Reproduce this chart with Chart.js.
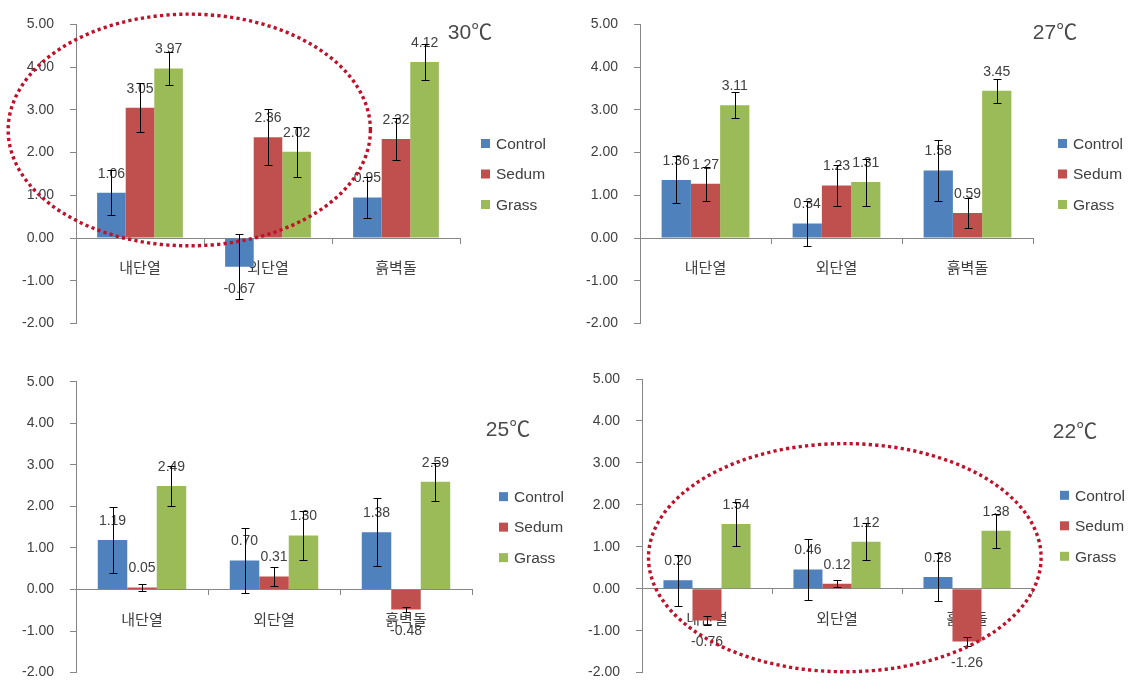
<!DOCTYPE html>
<html>
<head>
<meta charset="utf-8">
<script src="https://cdn.jsdelivr.net/npm/chart.js@4.4.0/dist/chart.umd.min.js"></script>
<style>
html, body { margin: 0; padding: 0; background: #fff; }
#wrap { position: relative; width: 1132px; height: 697px; overflow: hidden; }
#wrap canvas { position: absolute; }
</style>
</head>
<body>
<div id="wrap">
  <canvas id="c0" width="566" height="348" style="left:0;top:0"></canvas>
  <canvas id="c1" width="566" height="348" style="left:566px;top:0"></canvas>
  <canvas id="c2" width="566" height="349" style="left:0;top:348px"></canvas>
  <canvas id="c3" width="566" height="349" style="left:566px;top:348px"></canvas>
</div>
<script>
// categories and series
const categories = ['내단열', '외단열', '흙벽돌'];
const seriesNames = ['Control', 'Sedum', 'Grass'];
const temps = ['30℃', '27℃', '25℃', '22℃'];

// mean values, one row per temperature (30, 27, 25, 22)
const controlMeans = [[1.06, -0.67, 0.95], [1.36, 0.34, 1.58], [1.19, 0.70, 1.38], [0.20, 0.46, 0.28]];
const sedumMeans   = [[3.05, 2.36, 2.32], [1.27, 1.23, 0.59], [0.05, 0.31, -0.48], [-0.76, 0.12, -1.26]];
const grassMeans   = [[3.97, 2.02, 4.12], [3.11, 1.31, 3.45], [2.49, 1.30, 2.59], [1.54, 1.12, 1.38]];

// error bar half-lengths
const controlErr = [[0.53, 0.76, 0.49], [0.55, 0.52, 0.72], [0.79, 0.79, 0.81], [0.61, 0.73, 0.58]];
const sedumErr   = [[0.57, 0.65, 0.50], [0.39, 0.47, 0.35], [0.08, 0.23, 0.06], [0.10, 0.08, 0.11]];
const grassErr   = [[0.38, 0.58, 0.43], [0.31, 0.55, 0.28], [0.49, 0.60, 0.46], [0.53, 0.44, 0.40]];

// y axis range
const yMin = -2;
const yMax = 5;
const yStep = 1;

const means = [controlMeans, sedumMeans, grassMeans];
const errs = [controlErr, sedumErr, grassErr];
const colors = ['#4F81BD', '#C0504D', '#9BBB59'];

const FONT = "'Liberation Sans', 'Noto Sans CJK KR', sans-serif";
const TEXT = '#404040';
const AXIS = '#868686';

// per-panel layout; ring = dotted highlight ellipse in scale units
const panels = [
  { padTop: 22.7, padBottom: 20, padRight: 106, axisLeft: 76, title: [470, 33], legendX: 481,
    ring: { x0: -1.03, x1: 1.80, y0: -0.18, y1: 5.24 } },
  { padTop: 22.7, padBottom: 20, padRight: 99, axisLeft: 74, title: [489, 33], legendX: 492 },
  { padTop: 33.7, padBottom: 13, padRight: 94, axisLeft: 76, title: [508, 82], legendX: 499 },
  { padTop: 31, padBottom: 14, padRight: 100, axisLeft: 76, title: [509, 84], legendX: 494,
    ring: { x0: -0.45, x1: 2.57, y0: -1.98, y1: 3.46 } }
];

const decor = {
  id: 'decor',
  afterDatasetsDraw(chart, args, opts) {
    const ctx = chart.ctx;
    const p = opts.panel;
    const y = chart.scales.y;
    const x = chart.scales.x;
    const area = chart.chartArea;
    ctx.save();

    // value labels
    ctx.font = '14px ' + FONT;
    ctx.fillStyle = TEXT;
    ctx.textAlign = 'center';
    ctx.textBaseline = 'middle';
    chart.data.datasets.forEach((ds, i) => {
      chart.getDatasetMeta(i).data.forEach((bar, j) => {
        const v = ds.data[j];
        const ty = v >= 0 ? bar.y - 19 : bar.y + 22;
        ctx.fillText(v.toFixed(2), bar.x, ty);
      });
    });

    // error bars
    ctx.strokeStyle = '#000';
    ctx.lineWidth = 1;
    chart.data.datasets.forEach((ds, i) => {
      chart.getDatasetMeta(i).data.forEach((bar, j) => {
        const v = ds.data[j], e = ds.errors[j];
        const top = Math.round(y.getPixelForValue(v + e)) + 0.5;
        const bot = Math.round(y.getPixelForValue(v - e)) + 0.5;
        const cx = Math.round(bar.x) + 0.5;
        ctx.beginPath();
        ctx.moveTo(cx, top); ctx.lineTo(cx, bot);
        ctx.moveTo(cx - 4, top); ctx.lineTo(cx + 4, top);
        ctx.moveTo(cx - 4, bot); ctx.lineTo(cx + 4, bot);
        ctx.stroke();
      });
    });

    // legend
    const midY = (area.top + area.bottom) / 2;
    ctx.font = '15.5px ' + FONT;
    ctx.textAlign = 'left';
    chart.data.datasets.forEach((ds, i) => {
      const ly = midY + (i - 1) * 30.5;
      ctx.fillStyle = ds.backgroundColor;
      ctx.fillRect(p.legendX, ly - 4.5, 9, 9);
      ctx.fillStyle = TEXT;
      ctx.fillText(ds.label, p.legendX + 15, ly + 1);
    });

    // temperature title
    ctx.font = '21px ' + FONT;
    ctx.textAlign = 'center';
    ctx.fillStyle = '#4a4a4a';
    ctx.fillText(opts.title, p.title[0], p.title[1]);

    // dotted ellipse
    if (p.ring) {
      const l = x.getPixelForValue(p.ring.x0), r = x.getPixelForValue(p.ring.x1);
      const t = y.getPixelForValue(p.ring.y1), b = y.getPixelForValue(p.ring.y0);
      ctx.beginPath();
      ctx.ellipse((l + r) / 2, (t + b) / 2, (r - l) / 2, (b - t) / 2, 0, 0, Math.PI * 2);
      ctx.setLineDash([3.2, 3.2]);
      ctx.lineCap = 'butt';
      ctx.lineWidth = 3.4;
      ctx.strokeStyle = '#C0102A';
      ctx.stroke();
    }
    ctx.restore();
  }
};

panels.forEach((p, k) => {
  const datasets = seriesNames.map((name, s) => ({
    label: name,
    data: means[s][k],
    errors: errs[s][k],
    backgroundColor: colors[s],
    borderWidth: 0,
    categoryPercentage: 0.67,
    barPercentage: 1.0
  }));

  new Chart(document.getElementById('c' + k), {
    type: 'bar',
    data: { labels: categories, datasets },
    options: {
      responsive: false,
      animation: false,
      layout: { padding: { top: p.padTop, bottom: p.padBottom, left: 0, right: p.padRight } },
      plugins: {
        legend: { display: false },
        tooltip: { enabled: false },
        decor: { panel: p, title: temps[k] }
      },
      scales: {
        x: {
          position: { y: 0 },
          grid: { drawOnChartArea: false, tickLength: 5, color: AXIS },
          border: { color: AXIS },
          ticks: { padding: 17, color: TEXT, font: { family: FONT, size: 15 } }
        },
        y: {
          min: yMin,
          max: yMax,
          afterFit(scale) { scale.width = p.axisLeft; },
          grid: { drawOnChartArea: false, tickLength: 6, color: AXIS },
          border: { color: AXIS },
          ticks: {
            stepSize: yStep,
            padding: 16,
            color: TEXT,
            font: { family: FONT, size: 14 },
            callback: v => v.toFixed(2)
          }
        }
      }
    },
    plugins: [decor]
  });
});
</script>
</body>
</html>
